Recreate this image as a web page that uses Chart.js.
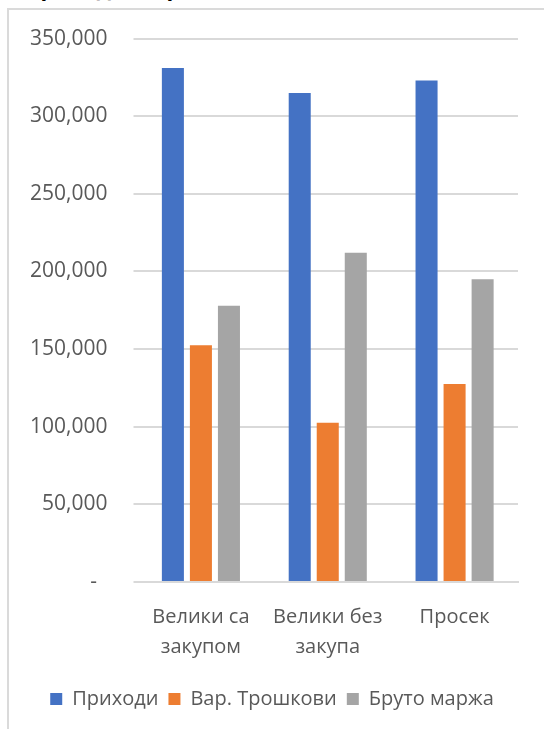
<!DOCTYPE html>
<html>
<head>
<meta charset="utf-8">
<script src="https://cdn.jsdelivr.net/npm/chart.js@4.4.1/dist/chart.umd.min.js"></script>
<style>
  html, body { margin: 0; padding: 0; background: #fff; }
  body { width: 544px; height: 729px; overflow: hidden; position: relative; }
  #frame {
    position: absolute; left: 7px; top: 8px; width: 700px; height: 900px;
    border-left: 2px solid #dadada; border-top: 2px solid #dadada;
  }
  #title {
    position: absolute; left: 24px; top: -24px;
    font: bold 22px/22px "Open Sans", sans-serif; color: #000; white-space: nowrap;
  }
  #wrap { position: absolute; left: 0; top: 0; width: 544px; height: 729px; }
</style>
</head>
<body>
<div id="frame"></div>
<div id="title">Приходи и трошкови</div>
<div id="wrap"><canvas id="chart" width="544" height="729"></canvas></div>
<script>
/* =========================
   Data
========================= */
const categories = [["Велики са", "закупом"], ["Велики без", "закупа"], ["Просек"]];
const seriesNames = ["Приходи", "Вар. Трошкови", "Бруто маржа"];
const prihodi = [331000, 315000, 323000];
const varTroskovi = [152500, 102500, 127500];
const brutoMarza = [178000, 212000, 195000];
const yTicks = [0, 50000, 100000, 150000, 200000, 250000, 300000, 350000];

const colors = ["#4472C4", "#ED7D31", "#A5A5A5"];
const FONT = "'Open Sans', sans-serif";
const TXT = "#595959";
const GRID = "#d9d9d9";

const ds = (label, data, color) => ({
  label, data,
  backgroundColor: color,
  borderWidth: 0,
  categoryPercentage: 0.663,
  barPercentage: 0.786,
});

new Chart(document.getElementById("chart"), {
  type: "bar",
  data: {
    labels: categories,
    datasets: [
      ds(seriesNames[0], prihodi, colors[0]),
      ds(seriesNames[1], varTroskovi, colors[1]),
      ds(seriesNames[2], brutoMarza, colors[2]),
    ],
  },
  options: {
    responsive: false,
    animation: false,
    layout: { padding: { top: 38, left: 26, right: 26, bottom: 10 } },
    plugins: {
      tooltip: { enabled: false },
      legend: {
        position: "bottom",
        labels: {
          boxWidth: 12, boxHeight: 12, padding: 10,
          color: TXT,
          font: { family: FONT, size: 20 },
        },
      },
    },
    scales: {
      x: {
        grid: { display: false },
        border: { display: true, color: GRID, width: 2 },
        ticks: {
          color: TXT, padding: 12, maxRotation: 0,
          font: { family: FONT, size: 20, lineHeight: 1.5 },
        },
        afterFit: (s) => { s.height = 97; },
      },
      y: {
        min: 0, max: 350000,
        afterBuildTicks: (s) => { s.ticks = yTicks.map(v => ({ value: v })); },
        grid: { color: GRID, lineWidth: 2, tickLength: 4, drawTicks: true },
        border: { display: false },
        ticks: {
          color: TXT, padding: 26,
          font: { family: FONT, size: 21 },
          callback: (v) => (v === 0 ? "-\u2002" : v.toLocaleString("en-US")),
        },
        afterFit: (s) => { s.width = 111.5; },
      },
    },
  },
});
</script>
</body>
</html>
